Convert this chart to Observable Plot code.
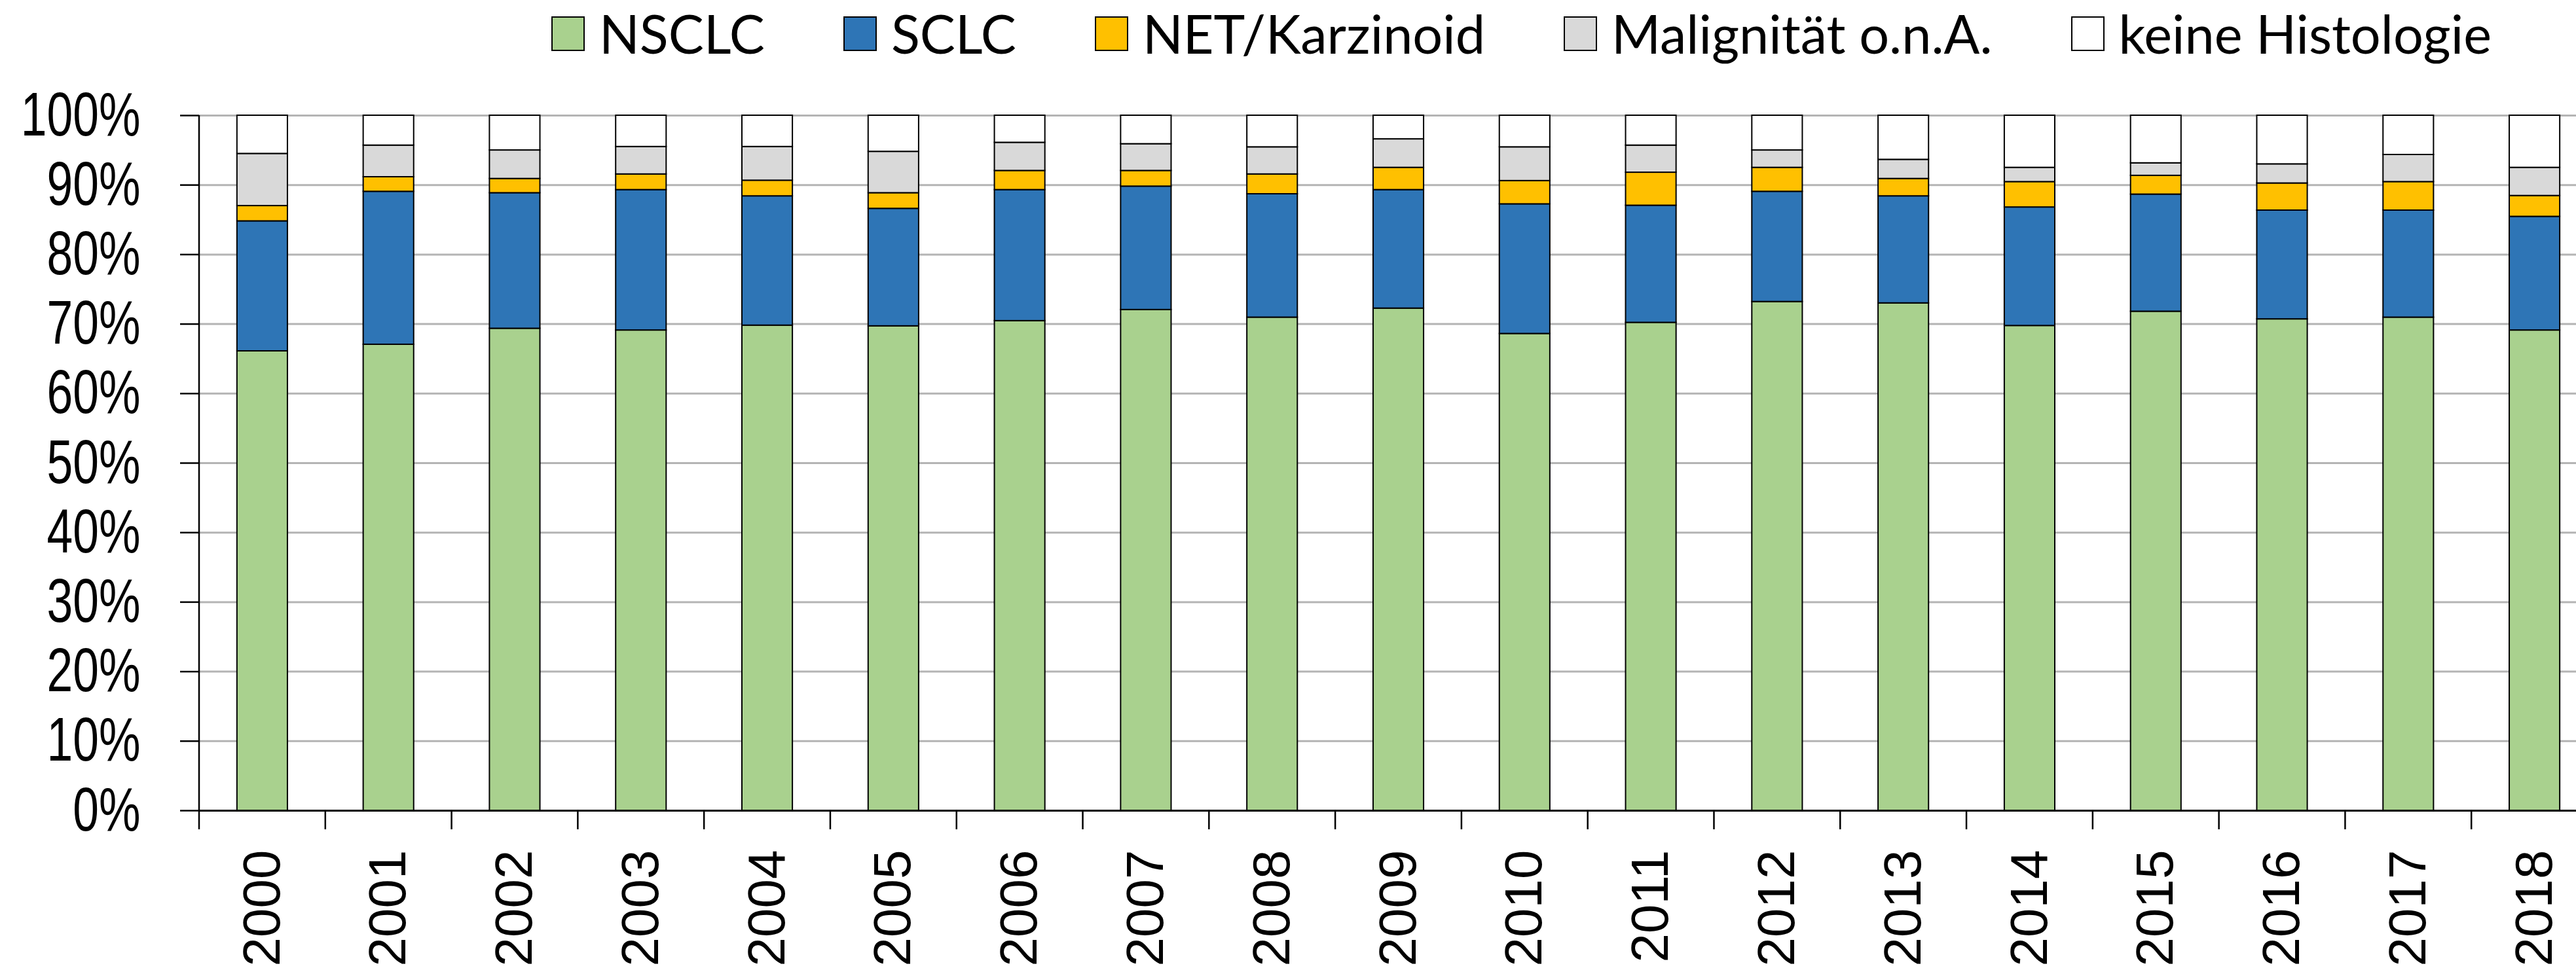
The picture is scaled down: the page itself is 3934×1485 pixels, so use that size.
<!DOCTYPE html>
<html>
<head>
<meta charset="utf-8">
<script src="https://cdn.jsdelivr.net/npm/d3@7"></script>
<script src="https://cdn.jsdelivr.net/npm/@observablehq/plot@0.6"></script>
<style>
  html, body { margin: 0; padding: 0; background: #fff; overflow: hidden; width: 3934px; height: 1485px; }
  #legend { height: 101px; padding-top: 9px; padding-left: 842px; display: flex; align-items: flex-start; box-sizing: content-box; }
  .item { display: flex; align-items: center; margin-right: 120px; height: 84px; }
  .sw { width: 51px; height: 53px; box-sizing: border-box; border: 2px solid #000; }
  .lbl { margin-left: 22px; font-family: Lato, "Open Sans", sans-serif; font-size: 81px; line-height: 84px; color: #000; white-space: nowrap; }
  #chart { width: 3970px; }
</style>
</head>
<body>
<div id="legend"></div>
<div id="chart"></div>
<script>
const years = ["2000","2001","2002","2003","2004","2005","2006","2007","2008","2009","2010","2011","2012","2013","2014","2015","2016","2017","2018"];
const seriesNames = ["NSCLC", "SCLC", "NET/Karzinoid", "Malignität o.n.A.", "keine Histologie"];
const seriesColors = ["#a9d18e", "#2e75b6", "#ffc000", "#d9d9d9", "#ffffff"];

// percentages per year
const nsclc           = [66.1, 67.05, 69.35, 69.1, 69.8, 69.7, 70.45, 72.05, 70.95, 72.25, 68.6, 70.2, 73.2, 73.0, 69.75, 71.8, 70.7, 70.95, 69.1];
const sclc            = [18.7, 22.0, 19.5, 20.2, 18.6, 16.9, 18.85, 17.75, 17.75, 17.05, 18.65, 16.85, 15.85, 15.4, 17.05, 16.85, 15.65, 15.4, 16.35];
const net             = [2.2, 2.1, 2.05, 2.25, 2.25, 2.25, 2.75, 2.25, 2.85, 3.2, 3.35, 4.75, 3.45, 2.5, 3.65, 2.7, 3.9, 4.1, 3.0];
const malignitaet     = [7.5, 4.55, 4.1, 3.95, 4.85, 5.95, 4.05, 3.85, 3.9, 4.1, 4.85, 3.9, 2.5, 2.75, 2.05, 1.8, 2.75, 3.9, 4.05];
const keineHistologie = [5.5, 4.3, 5.0, 4.5, 4.5, 5.2, 3.9, 4.1, 4.55, 3.4, 4.55, 4.3, 5.0, 6.35, 7.5, 6.85, 7.0, 5.65, 7.5];

const yTicks = [0, 10, 20, 30, 40, 50, 60, 70, 80, 90, 100];

// legend
const legend = d3.select("#legend");
seriesNames.forEach((name, k) => {
  const it = legend.append("div").attr("class", "item");
  it.append("div").attr("class", "sw").style("background", seriesColors[k]);
  it.append("div").attr("class", "lbl").text(name);
});

// long-format table
const seriesValues = [nsclc, sclc, net, malignitaet, keineHistologie];
const data = [];
seriesNames.forEach((s, k) => years.forEach((yr, i) => data.push({year: yr, series: s, value: seriesValues[k][i]})));

// axis lines: left y-axis line and x ticks between categories
function axisLines(index, scales, values, dimensions) {
  const x = scales.x, y = scales.y;
  const bw = typeof x.bandwidth === "function" ? x.bandwidth() : x.bandwidth;
  const step = typeof x.step === "function" ? x.step() : (x(years[1]) - x(years[0]));
  const gap = (step - bw) / 2;
  const edges = years.map(yr => x(yr) - gap);
  edges.push(x(years[years.length - 1]) + bw + gap);
  const g = d3.create("svg:g").attr("stroke", "#000");
  g.selectAll("line.xt").data(edges).join("line")
    .attr("x1", d => d).attr("x2", d => d)
    .attr("y1", y(0)).attr("y2", y(0) + 29)
    .attr("stroke-width", 2.5);
  const x0 = dimensions.marginLeft;
  g.append("line").attr("x1", x0).attr("x2", x0).attr("y1", y(0)).attr("y2", y(100)).attr("stroke-width", 2.5);
  return g.node();
}

const chart = Plot.plot({
  width: 3970,
  height: 1375,
  marginLeft: 304,
  marginRight: 3,
  marginTop: 66,
  marginBottom: 247,
  style: {fontFamily: '"Liberation Sans", Arial, sans-serif', background: "white", maxWidth: "none", overflow: "visible", color: "#000"},
  x: {domain: years, paddingInner: 0.6, paddingOuter: 0.3, align: 0.5, round: false, label: null},
  y: {domain: [0, 100], label: null},
  color: {domain: seriesNames, range: seriesColors},
  marks: [
    Plot.ruleY(yTicks.filter(d => d > 0), {stroke: "#b4b4b4", strokeWidth: 3}),
    Plot.barY(data, Plot.stackY({order: seriesNames}, {x: "year", y: "value", z: "series", fill: "series", stroke: "#000", strokeWidth: 2})),
    Plot.ruleY([0], {stroke: "#000", strokeWidth: 3}),
    axisLines,
    Plot.axisY(yTicks, {tickSize: 29, tickPadding: 61, tickFormat: d => d + "%", fontSize: 94, strokeWidth: 2.5, label: null}),
    Plot.axisX({tickRotate: -90, textAnchor: "end", lineAnchor: "middle", tickSize: 0, tickPadding: 60, fontSize: 80, label: null})
  ]
});
document.getElementById("chart").appendChild(chart);

// condense the y tick labels horizontally like the reference
d3.select(chart).selectAll('g[aria-label="y-axis tick label"] text').each(function() {
  let t = this.getAttribute("transform");
  if (t && /translate\(/.test(t)) {
    this.setAttribute("transform", t.replace(/(translate\([^)]*\))/, "$1 scale(0.76,1)"));
  } else {
    const xx = +this.getAttribute("x") || 0, yy = +this.getAttribute("y") || 0;
    this.removeAttribute("x"); this.removeAttribute("y");
    this.setAttribute("transform", `translate(${xx},${yy}) scale(0.76,1)` + (t ? " " + t : ""));
  }
});
</script>
</body>
</html>
